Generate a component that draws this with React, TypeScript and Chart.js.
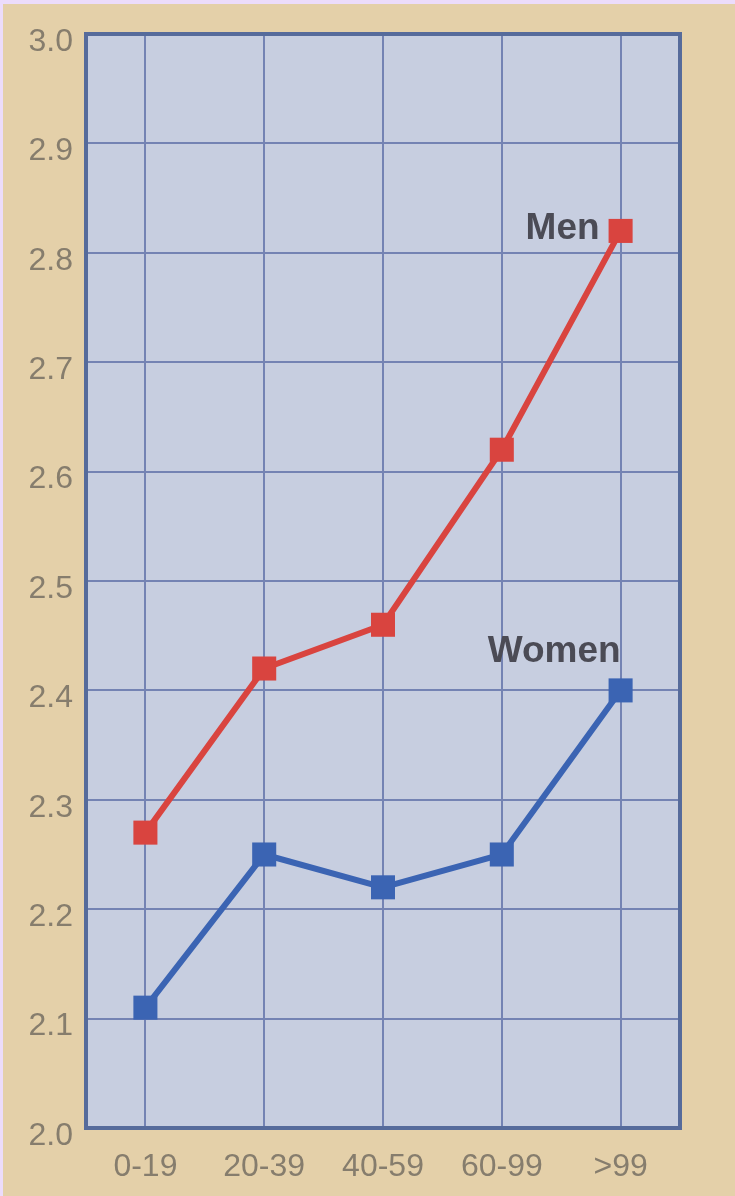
import React, { useEffect, useRef } from "react";
import { Chart, registerables } from "chart.js";

Chart.register(...registerables);

const categories = ["0-19", "20-39", "40-59", "60-99", ">99"];
const menValues = [2.27, 2.42, 2.46, 2.62, 2.82];
const womenValues = [2.11, 2.25, 2.22, 2.25, 2.4];
const seriesNames = ["Men", "Women"];

const TAN = "#e4d0a9";
const LAVENDER = "#ecdcfb";
const PLOT_BG = "#c7cee0";
const GRID = "#7483b3";
const BORDER = "#566b9b";
const TICK = "#867d6d";
const RED = "#d9443f";
const BLUE = "#3b64b3";

const bgPlugin = {
  id: "bgPlugin",
  beforeDraw(chart: any) {
    const { ctx, width, height, chartArea } = chart;
    ctx.save();
    ctx.fillStyle = TAN;
    ctx.fillRect(0, 0, width, height);
    ctx.fillStyle = LAVENDER;
    ctx.fillRect(0, 0, width, 4);
    ctx.fillRect(0, 0, 3, height);
    ctx.fillStyle = PLOT_BG;
    ctx.fillRect(
      chartArea.left,
      chartArea.top,
      chartArea.right - chartArea.left,
      chartArea.bottom - chartArea.top
    );
    ctx.restore();
  },
  beforeDatasetsDraw(chart: any) {
    const { ctx, chartArea } = chart;
    ctx.save();
    ctx.strokeStyle = BORDER;
    ctx.lineWidth = 4;
    ctx.strokeRect(
      chartArea.left,
      chartArea.top,
      chartArea.right - chartArea.left,
      chartArea.bottom - chartArea.top
    );
    ctx.restore();
  },
};

const labelPlugin = {
  id: "labelPlugin",
  afterDatasetsDraw(chart: any) {
    const { ctx } = chart;
    ctx.save();
    ctx.font = "bold 37px 'Liberation Sans', Arial, sans-serif";
    ctx.fillStyle = "#4b4b55";
    ctx.textAlign = "right";
    ctx.textBaseline = "alphabetic";
    const menMeta = chart.getDatasetMeta(0);
    const womenMeta = chart.getDatasetMeta(1);
    const mp = menMeta.data[menMeta.data.length - 1];
    const wp = womenMeta.data[womenMeta.data.length - 1];
    if (mp) ctx.fillText(seriesNames[0], mp.x - 21, mp.y + 8);
    if (wp) ctx.fillText(seriesNames[1], wp.x, wp.y - 28);
    ctx.restore();
  },
};

export default function App() {
  const ref = useRef<HTMLCanvasElement | null>(null);

  useEffect(() => {
    if (!ref.current) return;
    const chart = new Chart(ref.current, {
      type: "line",
      data: {
        labels: categories,
        datasets: [
          {
            label: seriesNames[0],
            data: menValues,
            borderColor: RED,
            backgroundColor: RED,
            borderWidth: 6,
            pointStyle: "rect",
            pointRadius: 17,
            pointBorderWidth: 0,
            tension: 0,
          },
          {
            label: seriesNames[1],
            data: womenValues,
            borderColor: BLUE,
            backgroundColor: BLUE,
            borderWidth: 6,
            pointStyle: "rect",
            pointRadius: 17,
            pointBorderWidth: 0,
            tension: 0,
          },
        ],
      },
      options: {
        animation: false,
        responsive: true,
        maintainAspectRatio: false,
        layout: { padding: { top: 34, right: 55, left: 0, bottom: 0 } },
        plugins: {
          legend: { display: false },
          tooltip: { enabled: false },
        },
        scales: {
          x: {
            type: "category",
            offset: true,
            grid: {
              offset: false,
              color: GRID,
              lineWidth: 2,
              drawTicks: false,
            },
            border: { color: BORDER, width: 4 },
            ticks: {
              color: TICK,
              padding: 20,
              font: { family: "'Liberation Sans', Arial, sans-serif", size: 32 },
              maxRotation: 0,
            },
            afterFit(scale: any) {
              scale.height = 68;
            },
          },
          y: {
            min: 2.0,
            max: 3.0,
            grid: {
              color: GRID,
              lineWidth: 2,
              drawTicks: false,
            },
            border: { color: BORDER, width: 4 },
            ticks: {
              stepSize: 0.1,
              color: TICK,
              padding: 13,
              labelOffset: 8,
              font: { family: "'Liberation Sans', Arial, sans-serif", size: 32 },
              callback: (v: any) => Number(v).toFixed(1),
            },
            afterFit(scale: any) {
              scale.width = 86;
            },
          },
        },
      },
      plugins: [bgPlugin, labelPlugin],
    });
    return () => chart.destroy();
  }, []);

  return (
    <div
      style={{
        position: "fixed",
        left: 0,
        top: 0,
        width: 735,
        height: 1196,
        background: TAN,
      }}
    >
      <canvas ref={ref} />
    </div>
  );
}
